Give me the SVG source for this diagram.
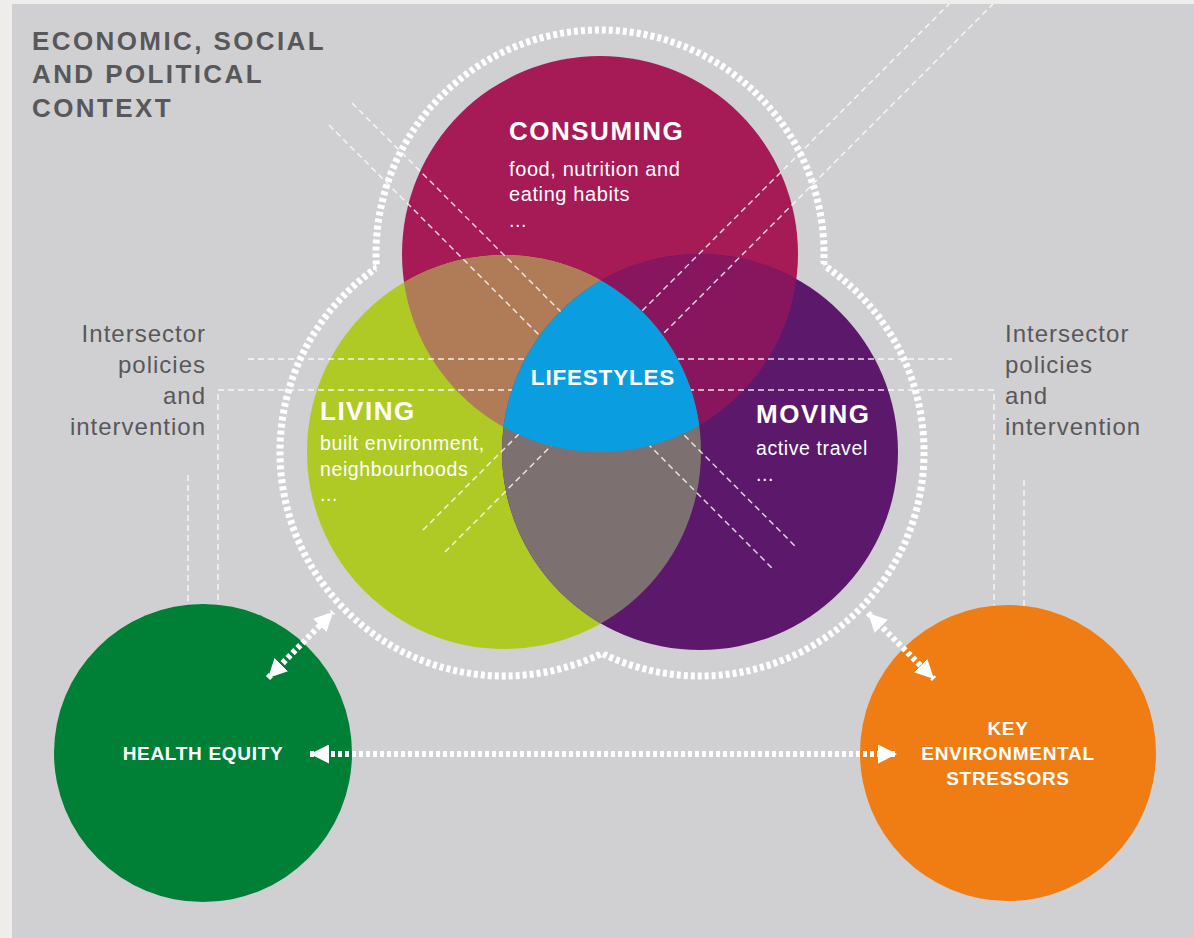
<svg xmlns="http://www.w3.org/2000/svg" width="1194" height="938" viewBox="0 0 1194 938">
<style>
.ctx{font-family:"Liberation Sans",Arial,sans-serif;font-weight:bold;font-size:26px;fill:#58585a;letter-spacing:2.4px}
.pol{font-family:"Liberation Sans",Arial,sans-serif;font-size:24px;fill:#58585a;letter-spacing:1px}
.ttl{font-family:"Liberation Sans",Arial,sans-serif;font-weight:bold;font-size:26px;fill:#fff;letter-spacing:1.5px}
.sub{font-family:"Liberation Sans",Arial,sans-serif;font-size:19.5px;fill:#fff;letter-spacing:0.6px}
.lab{font-family:"Liberation Sans",Arial,sans-serif;font-weight:bold;font-size:19px;fill:#fff;letter-spacing:0.7px;text-anchor:middle}
.dash{fill:none;stroke:#fff;stroke-width:1.4;stroke-dasharray:6 4;opacity:0.85}
.outline{fill:none;stroke:#fff;stroke-width:7;stroke-dasharray:4 3}
.arrow{fill:none;stroke:#fff;stroke-width:6;stroke-dasharray:4 3;marker-start:url(#ah);marker-end:url(#ah)}
</style>
<defs>
<marker id="ah" viewBox="0 0 10 10" refX="10" refY="5" markerWidth="19" markerHeight="19" markerUnits="userSpaceOnUse" orient="auto-start-reverse">
<path d="M0,0 L10,5 L0,10 z" fill="#fff"/>
</marker>
<clipPath id="cC"><circle cx="600" cy="254" r="198"/></clipPath>
<clipPath id="cL"><circle cx="504" cy="452" r="197"/></clipPath>
<clipPath id="cM"><circle cx="700" cy="452" r="198"/></clipPath>
<mask id="mC" maskUnits="userSpaceOnUse" x="0" y="0" width="1194" height="938">
<rect width="1194" height="938" fill="#fff"/>
<circle cx="504" cy="452" r="224" fill="#000"/>
<circle cx="700" cy="452" r="224" fill="#000"/>
</mask>
<mask id="mL" maskUnits="userSpaceOnUse" x="0" y="0" width="1194" height="938">
<rect width="1194" height="938" fill="#fff"/>
<circle cx="600" cy="254" r="224" fill="#000"/>
<circle cx="700" cy="452" r="224" fill="#000"/>
</mask>
<mask id="mM" maskUnits="userSpaceOnUse" x="0" y="0" width="1194" height="938">
<rect width="1194" height="938" fill="#fff"/>
<circle cx="600" cy="254" r="224" fill="#000"/>
<circle cx="504" cy="452" r="224" fill="#000"/>
</mask>
</defs>

<rect width="1194" height="938" fill="#eeedeb"/>
<rect x="12" y="4" width="1182" height="934" fill="#d0d0d2"/>

<g id="context-title">
<text class="ctx" x="32" y="50">ECONOMIC, SOCIAL</text>
<text class="ctx" x="32" y="83">AND POLITICAL</text>
<text class="ctx" x="32" y="117">CONTEXT</text>
</g>

<g id="policies-left">
<text class="pol" x="206" y="342" text-anchor="end">Intersector</text>
<text class="pol" x="206" y="373" text-anchor="end">policies</text>
<text class="pol" x="206" y="404" text-anchor="end">and</text>
<text class="pol" x="206" y="435" text-anchor="end">intervention</text>
</g>
<g id="policies-right">
<text class="pol" x="1005" y="342">Intersector</text>
<text class="pol" x="1005" y="373">policies</text>
<text class="pol" x="1005" y="404">and</text>
<text class="pol" x="1005" y="435">intervention</text>
</g>

<g id="outline">
<circle class="outline" cx="600" cy="254" r="224" mask="url(#mC)"/>
<circle class="outline" cx="504" cy="452" r="224" mask="url(#mL)"/>
<circle class="outline" cx="700" cy="452" r="224" mask="url(#mM)"/>
</g>

<g id="consuming"><circle cx="600" cy="254" r="198" fill="#a61a55"/></g>
<g id="living"><circle cx="504" cy="452" r="197" fill="#afca25"/></g>
<g id="moving"><circle cx="700" cy="452" r="198" fill="#5c186b"/></g>
<g id="overlaps">
<g clip-path="url(#cC)"><circle cx="504" cy="452" r="197" fill="#b07c58"/></g>
<g clip-path="url(#cC)"><circle cx="700" cy="452" r="198" fill="#87165f"/></g>
<g clip-path="url(#cL)"><circle cx="700" cy="452" r="198" fill="#7d7070"/></g>
</g>

<g id="connectors">
<line class="dash" x1="352" y1="103" x2="795" y2="546"/>
<line class="dash" x1="329" y1="125" x2="773" y2="569"/>
<line class="dash" x1="445" y1="552" x2="993" y2="4"/>
<line class="dash" x1="423" y1="530" x2="949" y2="4"/>
<line class="dash" x1="248" y1="359" x2="952" y2="359"/>
<polyline class="dash" points="218,640 218,390 994,390 994,640"/>
<line class="dash" x1="188" y1="475" x2="188" y2="640"/>
<line class="dash" x1="1024" y1="480" x2="1024" y2="640"/>
</g>

<g id="lifestyles">
<g clip-path="url(#cC)"><g clip-path="url(#cL)"><circle cx="700" cy="452" r="198" fill="#0a9de0"/></g></g>
<text class="ttl" x="603" y="385" text-anchor="middle" style="font-size:22.5px;letter-spacing:0.8px">LIFESTYLES</text>
</g>

<g id="consuming-text">
<text class="ttl" x="509" y="140">CONSUMING</text>
<text class="sub" x="509" y="176" style="font-size:20px">food, nutrition and</text>
<text class="sub" x="509" y="201" style="font-size:20px">eating habits</text>
<text class="sub" x="509" y="227">...</text>
</g>
<g id="living-text">
<text class="ttl" x="320" y="420">LIVING</text>
<text class="sub" x="320" y="450">built environment,</text>
<text class="sub" x="320" y="476">neighbourhoods</text>
<text class="sub" x="320" y="501">...</text>
</g>
<g id="moving-text">
<text class="ttl" x="756" y="423">MOVING</text>
<text class="sub" x="756" y="455">active travel</text>
<text class="sub" x="756" y="481">...</text>
</g>

<g id="health-equity">
<circle cx="203" cy="753" r="149" fill="#007f36"/>
<text class="lab" x="203" y="760">HEALTH EQUITY</text>
</g>
<g id="key-environmental-stressors">
<circle cx="1008" cy="753" r="148" fill="#ef7d14"/>
<text class="lab" x="1008" y="735">KEY</text>
<text class="lab" x="1008" y="760">ENVIRONMENTAL</text>
<text class="lab" x="1008" y="785">STRESSORS</text>
</g>

<g id="arrows">
<line class="arrow" x1="268" y1="678" x2="333" y2="612"/>
<line class="arrow" x1="310" y1="754" x2="897" y2="754"/>
<line class="arrow" x1="868" y1="613" x2="934" y2="679"/>
</g>
</svg>
